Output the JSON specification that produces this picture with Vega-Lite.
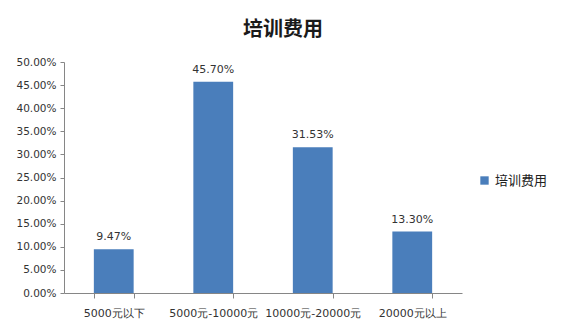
{
  "$schema": "https://vega.github.io/schema/vega-lite/v6.json",
  "autosize": "none",
  "width": 398,
  "height": 231,
  "padding": {"left": 64, "top": 62, "right": 103, "bottom": 39},
  "background": "white",
  "title": {
    "text": "培训费用",
    "font": "Noto Sans CJK SC",
    "fontSize": 20,
    "fontWeight": "bold",
    "color": "#1a1a1a",
    "anchor": "middle",
    "offset": 17,
    "dx": 20
  },
  "data": {
    "values": [
      {"range": "5000元以下", "share": 0.0947, "series": "培训费用"},
      {"range": "5000元-10000元", "share": 0.457, "series": "培训费用"},
      {"range": "10000元-20000元", "share": 0.3153, "series": "培训费用"},
      {"range": "20000元以上", "share": 0.133, "series": "培训费用"}
    ]
  },
  "encoding": {
    "x": {
      "field": "range",
      "type": "nominal",
      "sort": null,
      "scale": {"paddingInner": 0.6, "paddingOuter": 0.3},
      "axis": {
        "title": null,
        "labelAngle": 0,
        "tickBand": "extent",
        "tickSize": 5,
        "labelPadding": 9,
        "labelFont": "DejaVu Sans",
        "labelFontSize": 11,
        "labelColor": "#333333",
        "domainColor": "#868686",
        "tickColor": "#868686"
      }
    },
    "y": {
      "field": "share",
      "type": "quantitative",
      "scale": {"domain": [0, 0.5], "nice": false},
      "axis": {
        "title": null,
        "format": ".2%",
        "values": [0, 0.05, 0.1, 0.15, 0.2, 0.25, 0.3, 0.35, 0.4, 0.45, 0.5],
        "grid": false,
        "tickSize": 4,
        "labelPadding": 4,
        "labelFont": "DejaVu Sans",
        "labelFontSize": 10.5,
        "labelColor": "#333333",
        "domainColor": "#868686",
        "tickColor": "#868686"
      }
    }
  },
  "layer": [
    {
      "mark": {"type": "bar"},
      "encoding": {
        "color": {
          "field": "series",
          "type": "nominal",
          "scale": {"range": ["#4a7ebb"]},
          "legend": {
            "title": null,
            "orient": "none",
            "legendX": 414,
            "legendY": 112,
            "symbolType": "square",
            "symbolSize": 70,
            "labelFont": "Noto Sans CJK SC",
            "labelFontSize": 13,
            "labelColor": "#222222"
          }
        }
      }
    },
    {
      "mark": {
        "type": "text",
        "baseline": "bottom",
        "dy": -7,
        "font": "DejaVu Sans",
        "fontSize": 11,
        "color": "#333333"
      },
      "encoding": {
        "text": {"field": "share", "type": "quantitative", "format": ".2%"}
      }
    }
  ],
  "config": {
    "view": {"stroke": null}
  }
}
